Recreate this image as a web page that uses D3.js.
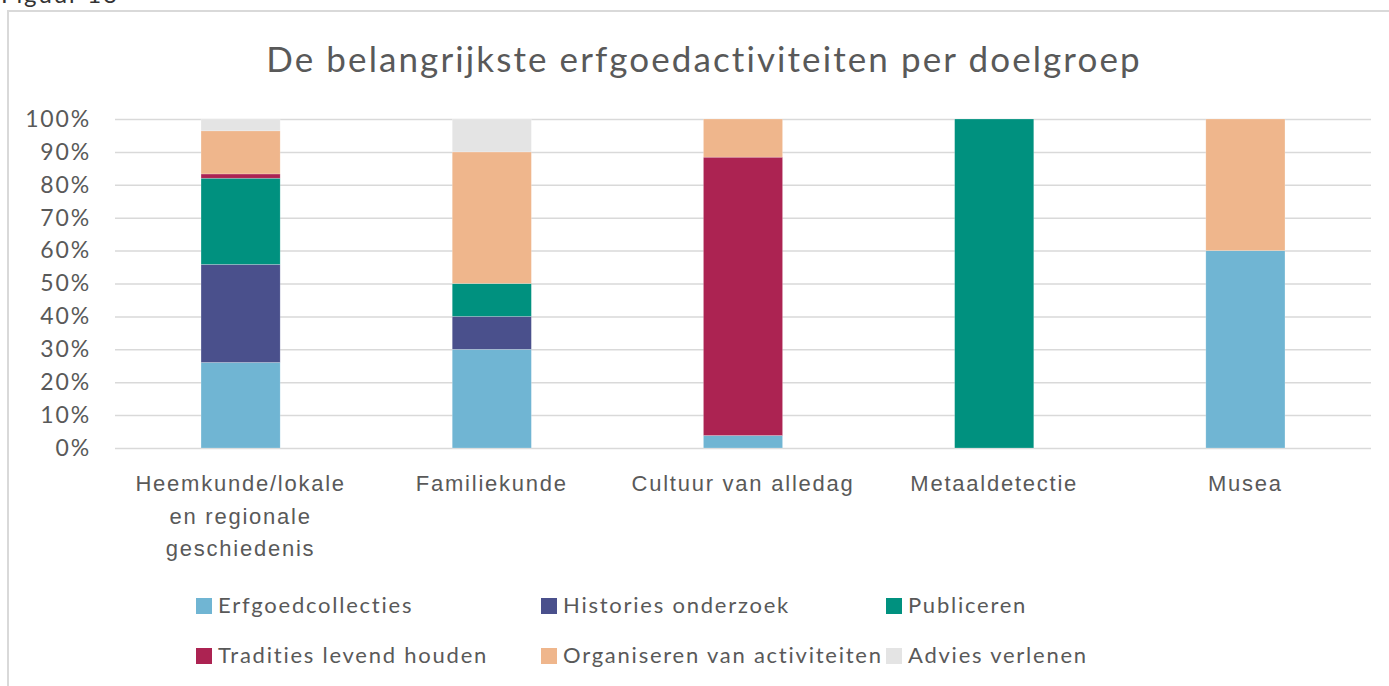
<!DOCTYPE html>
<html>
<head>
<meta charset="utf-8">
<script src="https://cdn.jsdelivr.net/npm/d3@7"></script>
<style>
  body { margin: 0; background: #fff; }
  svg { display: block; font-family: Lato, "Open Sans", sans-serif; }
  text { letter-spacing: 0.08em; }
</style>
</head>
<body>
<div id="chart"></div>
<script>
// categories (doelgroepen), each label split into its lines
var categories = ["Heemkunde/lokale en regionale geschiedenis", "Familiekunde", "Cultuur van alledag", "Metaaldetectie", "Musea"];
var categoryLines = [["Heemkunde/lokale", "en regionale", "geschiedenis"], ["Familiekunde"], ["Cultuur van alledag"], ["Metaaldetectie"], ["Musea"]];

// series, in stacking order (bottom to top), values in %
var seriesNames = ["Erfgoedcollecties", "Histories onderzoek", "Publiceren", "Tradities levend houden", "Organiseren van activiteiten", "Advies verlenen"];
var erfgoedcollecties = [26.0, 30, 3.8, 0, 60];
var historiesOnderzoek = [29.8, 10, 0, 0, 0];
var publiceren = [26.2, 10, 0, 100, 0];
var traditiesLevend = [1.3, 0, 84.6, 0, 0];
var organiseren = [13.1, 40, 11.6, 0, 40];
var adviesVerlenen = [3.6, 10, 0, 0, 0];

var yTicks = [0, 10, 20, 30, 40, 50, 60, 70, 80, 90, 100];
var colors = ["#70b5d3", "#4a508c", "#00917f", "#ac2352", "#efb68c", "#e4e4e4"];

var width = 1389, height = 686;
var textColor = "#595959";

var allSeries = [erfgoedcollecties, historiesOnderzoek, publiceren, traditiesLevend, organiseren, adviesVerlenen];
var rows = categories.map(function(c, i) {
	var row = { cat: c };
	seriesNames.forEach(function(s, j) { row[s] = allSeries[j][i]; });
	return row;
});

var svg = d3.select("#chart").append("svg")
	.attr("width", width)
	.attr("height", height);

// outer frame of the chart (runs off the page at right and bottom)
svg.append("rect")
	.attr("x", 8).attr("y", 11)
	.attr("width", 1400).attr("height", 700)
	.attr("fill", "none")
	.attr("stroke", "#d9d9d9")
	.attr("stroke-width", 2);

// caption above the frame, cut off by the page edge
svg.append("text")
	.attr("x", 1).attr("y", 3)
	.attr("font-size", 24)
	.attr("fill", "#333")
	.text("Figuur 13");

svg.append("text")
	.attr("x", 704).attr("y", 72)
	.attr("text-anchor", "middle")
	.attr("font-size", 35)
	.attr("fill", textColor)
	.style("letter-spacing", "0.06em")
	.text("De belangrijkste erfgoedactiviteiten per doelgroep");

var x = d3.scaleBand()
	.domain(categories)
	.range([115, 1371])
	.paddingInner(0.685)
	.paddingOuter(0.3425);

var y = d3.scaleLinear()
	.domain([0, 100])
	.range([448, 119]);

// gridlines + y labels
var yAxis = svg.append("g")
	.attr("transform", "translate(115,0)")
	.call(d3.axisLeft(y)
		.tickValues(yTicks)
		.tickSize(-(1371 - 115))
		.tickPadding(24)
		.tickFormat(function(d) { return d + "%"; }));
yAxis.select(".domain").remove();
yAxis.selectAll(".tick line")
	.attr("stroke", "#d9d9d9")
	.attr("stroke-width", 1.5);
yAxis.selectAll(".tick text")
	.attr("fill", textColor)
	.attr("font-size", 23)
	.attr("font-family", "Lato, sans-serif");

var stack = d3.stack().keys(seriesNames);
var stacked = stack(rows);

svg.append("g").selectAll("g")
	.data(stacked)
	.enter().append("g")
	.attr("fill", function(d, i) { return colors[i]; })
	.selectAll("rect")
	.data(function(d) { return d; })
	.enter().append("rect")
	.attr("x", function(d) { return x(d.data.cat); })
	.attr("y", function(d) { return y(d[1]); })
	.attr("width", x.bandwidth())
	.attr("height", function(d) { return y(d[0]) - y(d[1]); })
	.attr("stroke", "#fff")
	.attr("stroke-opacity", 0.35)
	.attr("stroke-width", 0.6);

// category labels
var xAxis = svg.append("g")
	.attr("transform", "translate(0,448)")
	.call(d3.axisBottom(x).tickSize(0).tickFormat(""));
xAxis.select(".domain").remove();
xAxis.selectAll(".tick").each(function(d, i) {
	var t = d3.select(this).append("text")
		.attr("fill", textColor)
		.attr("font-size", 22)
		.attr("text-anchor", "middle")
		.attr("y", 43);
	categoryLines[i].forEach(function(line, k) {
		t.append("tspan")
			.attr("x", 0)
			.attr("dy", k === 0 ? 0 : 32.5)
			.text(line);
	});
});

// legend, three columns
var legend = svg.append("g").selectAll("g")
	.data(seriesNames)
	.enter().append("g")
	.attr("transform", function(d, i) {
		return "translate(" + (196 + (i % 3) * 345) + "," + (598 + Math.floor(i / 3) * 50) + ")";
	});
legend.append("rect")
	.attr("width", 16).attr("height", 16)
	.attr("fill", function(d, i) { return colors[i]; });
legend.append("text")
	.attr("x", 22).attr("y", 15)
	.attr("font-size", 22)
	.attr("fill", textColor)
	.text(function(d) { return d; });
</script>
</body>
</html>
